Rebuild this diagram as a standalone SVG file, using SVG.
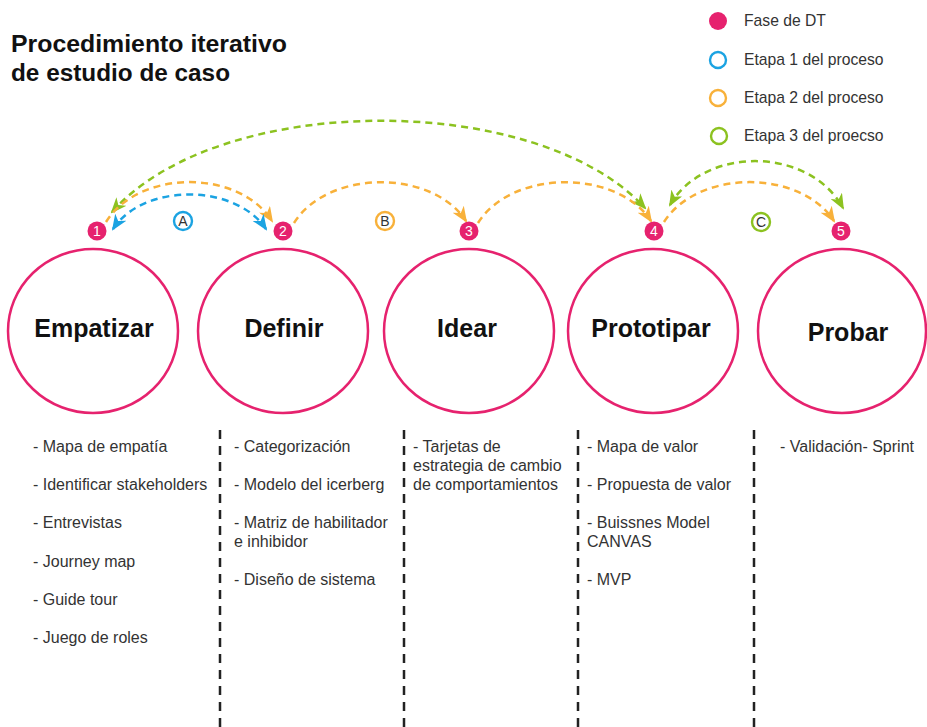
<svg xmlns="http://www.w3.org/2000/svg" width="927" height="727" viewBox="0 0 927 727">
<style>
.title{font-family:"Liberation Sans",Arial,sans-serif;font-weight:bold;font-size:23px;fill:#111}
.leg{font-family:"Liberation Sans",Arial,sans-serif;font-size:15.7px;fill:#333}
.ph{fill:none;stroke:#E6226E;stroke-width:2.5}
.lbl{font-family:"Liberation Sans",Arial,sans-serif;font-weight:bold;font-size:25px;fill:#111;text-anchor:middle}
.num{fill:#E6226E}
.numt{font-family:"Liberation Sans",Arial,sans-serif;font-size:14px;fill:#fff;text-anchor:middle}
.item{font-family:"Liberation Sans",Arial,sans-serif;font-size:16px;fill:#333}
.sep{stroke:#222;stroke-width:2.5;stroke-dasharray:9 7}
.arc{fill:none;stroke-width:2.5;stroke-dasharray:7 5}
.blue{stroke:#1BA3E2}
.orange{stroke:#F8B13A}
.green{stroke:#8CC220}
.ring{fill:#fff;stroke-width:2.4}
.lt{font-family:"Liberation Sans",Arial,sans-serif;font-size:14px;fill:#333;text-anchor:middle}
</style>
<defs>
<marker id="ab" viewBox="0 0 16 13" refX="14" refY="6.5" markerWidth="16" markerHeight="13" markerUnits="userSpaceOnUse" orient="auto-start-reverse"><path d="M0,0 L16,6.5 L0,13 L4.5,6.5 z" fill="#1BA3E2"/></marker>
<marker id="ao" viewBox="0 0 16 13" refX="14" refY="6.5" markerWidth="16" markerHeight="13" markerUnits="userSpaceOnUse" orient="auto-start-reverse"><path d="M0,0 L16,6.5 L0,13 L4.5,6.5 z" fill="#F8B13A"/></marker>
<marker id="ag" viewBox="0 0 16 13" refX="14" refY="6.5" markerWidth="16" markerHeight="13" markerUnits="userSpaceOnUse" orient="auto-start-reverse"><path d="M0,0 L16,6.5 L0,13 L4.5,6.5 z" fill="#8CC220"/></marker>
</defs>
<rect width="927" height="727" fill="#fff"/>

<g id="title">
<text class="title" x="11" y="52" textLength="276" lengthAdjust="spacingAndGlyphs">Procedimiento iterativo</text>
<text class="title" x="11" y="81" textLength="219" lengthAdjust="spacingAndGlyphs">de estudio de caso</text>
</g>

<g id="legend">
<circle cx="718" cy="21" r="9" fill="#E6226E"/>
<text class="leg" x="744" y="26">Fase de DT</text>
<circle cx="718" cy="60" r="8" class="ring blue" stroke-width="2.5"/>
<text class="leg" x="744" y="65">Etapa 1 del proceso</text>
<circle cx="718" cy="98" r="8" class="ring orange" stroke-width="2.5"/>
<text class="leg" x="744" y="103">Etapa 2 del proceso</text>
<circle cx="719" cy="136" r="8" class="ring green" stroke-width="2.5"/>
<text class="leg" x="744" y="141">Etapa 3 del proecso</text>
</g>

<g id="connectors">
<path class="arc green" d="M112,212 C219,91 538,91 645,208" marker-start="url(#ag)" marker-end="url(#ag)"/>
<path class="arc orange" d="M106,222 C139,169 239,169 272,221" marker-end="url(#ao)"/>
<path class="arc blue" d="M113,229 C143,183 235,183 266,229" marker-start="url(#ab)" marker-end="url(#ab)"/>
<path class="arc orange" d="M294,223 C328,169 432,169 466,221" marker-end="url(#ao)"/>
<path class="arc orange" d="M478,223 C512,169 617,169 651,221" marker-end="url(#ao)"/>
<path class="arc orange" d="M664,222 C698,169 800,169 834,221" marker-end="url(#ao)"/>
<path class="arc green" d="M670,205 C704,146 809,146 843,208" marker-start="url(#ag)" marker-end="url(#ag)"/>
</g>

<g id="stage-labels">
<g id="label-A"><circle cx="183" cy="221" r="9" class="ring blue"/><text class="lt" x="183" y="226">A</text></g>
<g id="label-B"><circle cx="385" cy="221" r="9" class="ring orange"/><text class="lt" x="385" y="226">B</text></g>
<g id="label-C"><circle cx="761" cy="222" r="9" class="ring green"/><text class="lt" x="761" y="227">C</text></g>
</g>

<g id="phase-1">
<circle class="num" cx="97" cy="231" r="9.5"/><text class="numt" x="97" y="236">1</text>
<ellipse class="ph" cx="93" cy="331" rx="85" ry="82"/>
<text class="lbl" x="94" y="337">Empatizar</text>
</g>
<g id="phase-2">
<circle class="num" cx="283" cy="231" r="9.5"/><text class="numt" x="283" y="236">2</text>
<ellipse class="ph" cx="283" cy="331" rx="85" ry="82"/>
<text class="lbl" x="284" y="337">Definir</text>
</g>
<g id="phase-3">
<circle class="num" cx="469" cy="231" r="9.5"/><text class="numt" x="469" y="236">3</text>
<ellipse class="ph" cx="469" cy="331" rx="85" ry="82"/>
<text class="lbl" x="467" y="337">Idear</text>
</g>
<g id="phase-4">
<circle class="num" cx="654" cy="231" r="9.5"/><text class="numt" x="654" y="236">4</text>
<ellipse class="ph" cx="653" cy="331" rx="85" ry="82"/>
<text class="lbl" x="651" y="337">Prototipar</text>
</g>
<g id="phase-5">
<circle class="num" cx="841" cy="231" r="9.5"/><text class="numt" x="841" y="236">5</text>
<ellipse class="ph" cx="842" cy="331" rx="84" ry="82"/>
<text class="lbl" x="848" y="341">Probar</text>
</g>

<g id="separators">
<line class="sep" x1="220" y1="430" x2="220" y2="727"/>
<line class="sep" x1="404" y1="430" x2="404" y2="727"/>
<line class="sep" x1="578" y1="430" x2="578" y2="727"/>
<line class="sep" x1="754" y1="430" x2="754" y2="727"/>
</g>

<g id="list-1">
<text class="item" x="33" y="452">- Mapa de empatía</text>
<text class="item" x="33" y="490">- Identificar stakeholders</text>
<text class="item" x="33" y="528">- Entrevistas</text>
<text class="item" x="33" y="567">- Journey map</text>
<text class="item" x="33" y="605">- Guide tour</text>
<text class="item" x="33" y="643">- Juego de roles</text>
</g>
<g id="list-2">
<text class="item" x="234" y="452">- Categorización</text>
<text class="item" x="234" y="490">- Modelo del icerberg</text>
<text class="item" x="234" y="528">- Matriz de habilitador</text>
<text class="item" x="234" y="547">e inhibidor</text>
<text class="item" x="234" y="585">- Diseño de sistema</text>
</g>
<g id="list-3">
<text class="item" x="413" y="452">- Tarjetas de</text>
<text class="item" x="413" y="471">estrategia de cambio</text>
<text class="item" x="413" y="490">de comportamientos</text>
</g>
<g id="list-4">
<text class="item" x="587" y="452">- Mapa de valor</text>
<text class="item" x="587" y="490">- Propuesta de valor</text>
<text class="item" x="587" y="528">- Buissnes Model</text>
<text class="item" x="587" y="547">CANVAS</text>
<text class="item" x="587" y="585">- MVP</text>
</g>
<g id="list-5">
<text class="item" x="780" y="452">- Validación- Sprint</text>
</g>
</svg>
